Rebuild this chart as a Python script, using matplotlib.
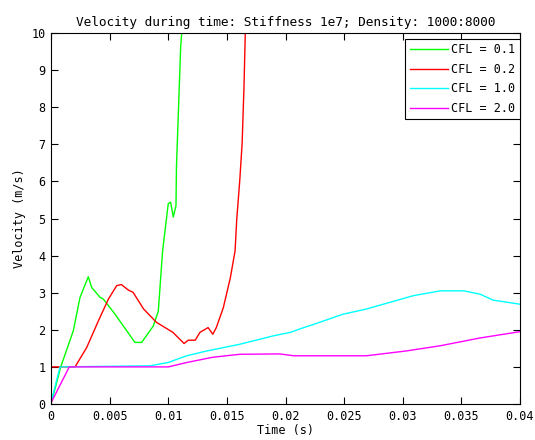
import matplotlib
matplotlib.use("Agg")
import matplotlib.pyplot as plt

# CFL = 0.1
t_01 = [0.0, 0.00083, 0.0019, 0.00247, 0.00318, 0.00347, 0.0042, 0.00446, 0.00546, 0.00716,
        0.00773, 0.00872, 0.00915, 0.00952, 0.0100, 0.0102, 0.01043, 0.01066, 0.0107, 0.01085,
        0.01106, 0.01115, 0.0113]
v_01 = [0.0, 1.0, 1.97, 2.87, 3.43, 3.14, 2.87, 2.83, 2.42, 1.66,
        1.66, 2.1, 2.5, 4.13, 5.4, 5.44, 5.04, 5.35, 6.39, 7.74,
        9.63, 10.0, 10.5]
# CFL = 0.2
t_02 = [0.0, 0.0, 0.00205, 0.00304, 0.00404, 0.0049, 0.0056, 0.006, 0.0066, 0.0070,
        0.0079, 0.009, 0.0104, 0.01135, 0.0117, 0.0123, 0.0127, 0.0134, 0.0138, 0.0141,
        0.0147, 0.0153, 0.0157, 0.01584, 0.0161, 0.0163, 0.01646, 0.01657, 0.0167]
v_02 = [0.67, 1.0, 1.0, 1.52, 2.24, 2.83, 3.19, 3.22, 3.07, 3.01,
        2.56, 2.2, 1.93, 1.63, 1.72, 1.72, 1.93, 2.06, 1.88, 2.06,
        2.6, 3.41, 4.13, 4.97, 6.03, 7.02, 8.55, 10.0, 10.5]
# CFL = 1.0
t_10 = [0.0, 0.00077, 0.00845, 0.0100, 0.01157, 0.0133, 0.0161, 0.0190, 0.0204, 0.0212,
        0.0229, 0.0249, 0.0269, 0.0289, 0.0309, 0.0332, 0.0352, 0.0366, 0.0377, 0.0400]
v_10 = [0.03, 1.0, 1.03, 1.12, 1.3, 1.43, 1.61, 1.84, 1.93, 2.02,
        2.2, 2.42, 2.56, 2.74, 2.92, 3.05, 3.05, 2.96, 2.8, 2.69]
# CFL = 2.0
t_20 = [0.0, 0.00156, 0.0100, 0.0116, 0.0138, 0.0161, 0.0195, 0.0207, 0.0269, 0.0303,
        0.0332, 0.0366, 0.0400]
v_20 = [0.03, 1.0, 1.0, 1.12, 1.26, 1.34, 1.35, 1.3, 1.3, 1.43,
        1.57, 1.78, 1.95]

labels = ["CFL = 0.1", "CFL = 0.2", "CFL = 1.0", "CFL = 2.0"]
colors = ["#00ff00", "#ff0000", "#00ffff", "#ff00ff"]
xticks = [0, 0.005, 0.01, 0.015, 0.02, 0.025, 0.03, 0.035, 0.04]
xticklabels = ["0", "0.005", "0.01", "0.015", "0.02", "0.025", "0.03", "0.035", "0.04"]
yticks = list(range(0, 11))

plt.rcParams['font.family'] = ['DejaVu Sans Mono']
plt.rcParams['font.size'] = 8.5

fig = plt.figure(figsize=(5.35, 4.4), dpi=100)
ax = fig.add_axes([51/535, 36/440, 469/535, 371/440])

for t, v, c, l in zip([t_01, t_02, t_10, t_20], [v_01, v_02, v_10, v_20], colors, labels):
    ax.plot(t, v, color=c, lw=1.0, label=l)

ax.set_xlim(0, 0.04)
ax.set_ylim(0, 10)
ax.set_xticks(xticks)
ax.set_xticklabels(xticklabels)
ax.set_yticks(yticks)
ax.tick_params(direction='in', top=True, right=True, length=5, width=0.8, pad=4)
for s in ax.spines.values():
    s.set_linewidth(0.8)
ax.set_xlabel("Time (s)", labelpad=1)
ax.set_ylabel("Velocity (m/s)", labelpad=4)
ax.set_title("Velocity during time: Stiffness 1e7; Density: 1000:8000", pad=5, fontsize=9.2)

leg = ax.legend(loc='upper right', bbox_to_anchor=(1.0, 0.985), frameon=True, fancybox=False,
                edgecolor='black', framealpha=1, handlelength=3.2, handletextpad=0.3,
                borderpad=0.4, labelspacing=0.55, borderaxespad=0)
leg.get_frame().set_linewidth(0.8)

fig.savefig("out.png", dpi=100)
